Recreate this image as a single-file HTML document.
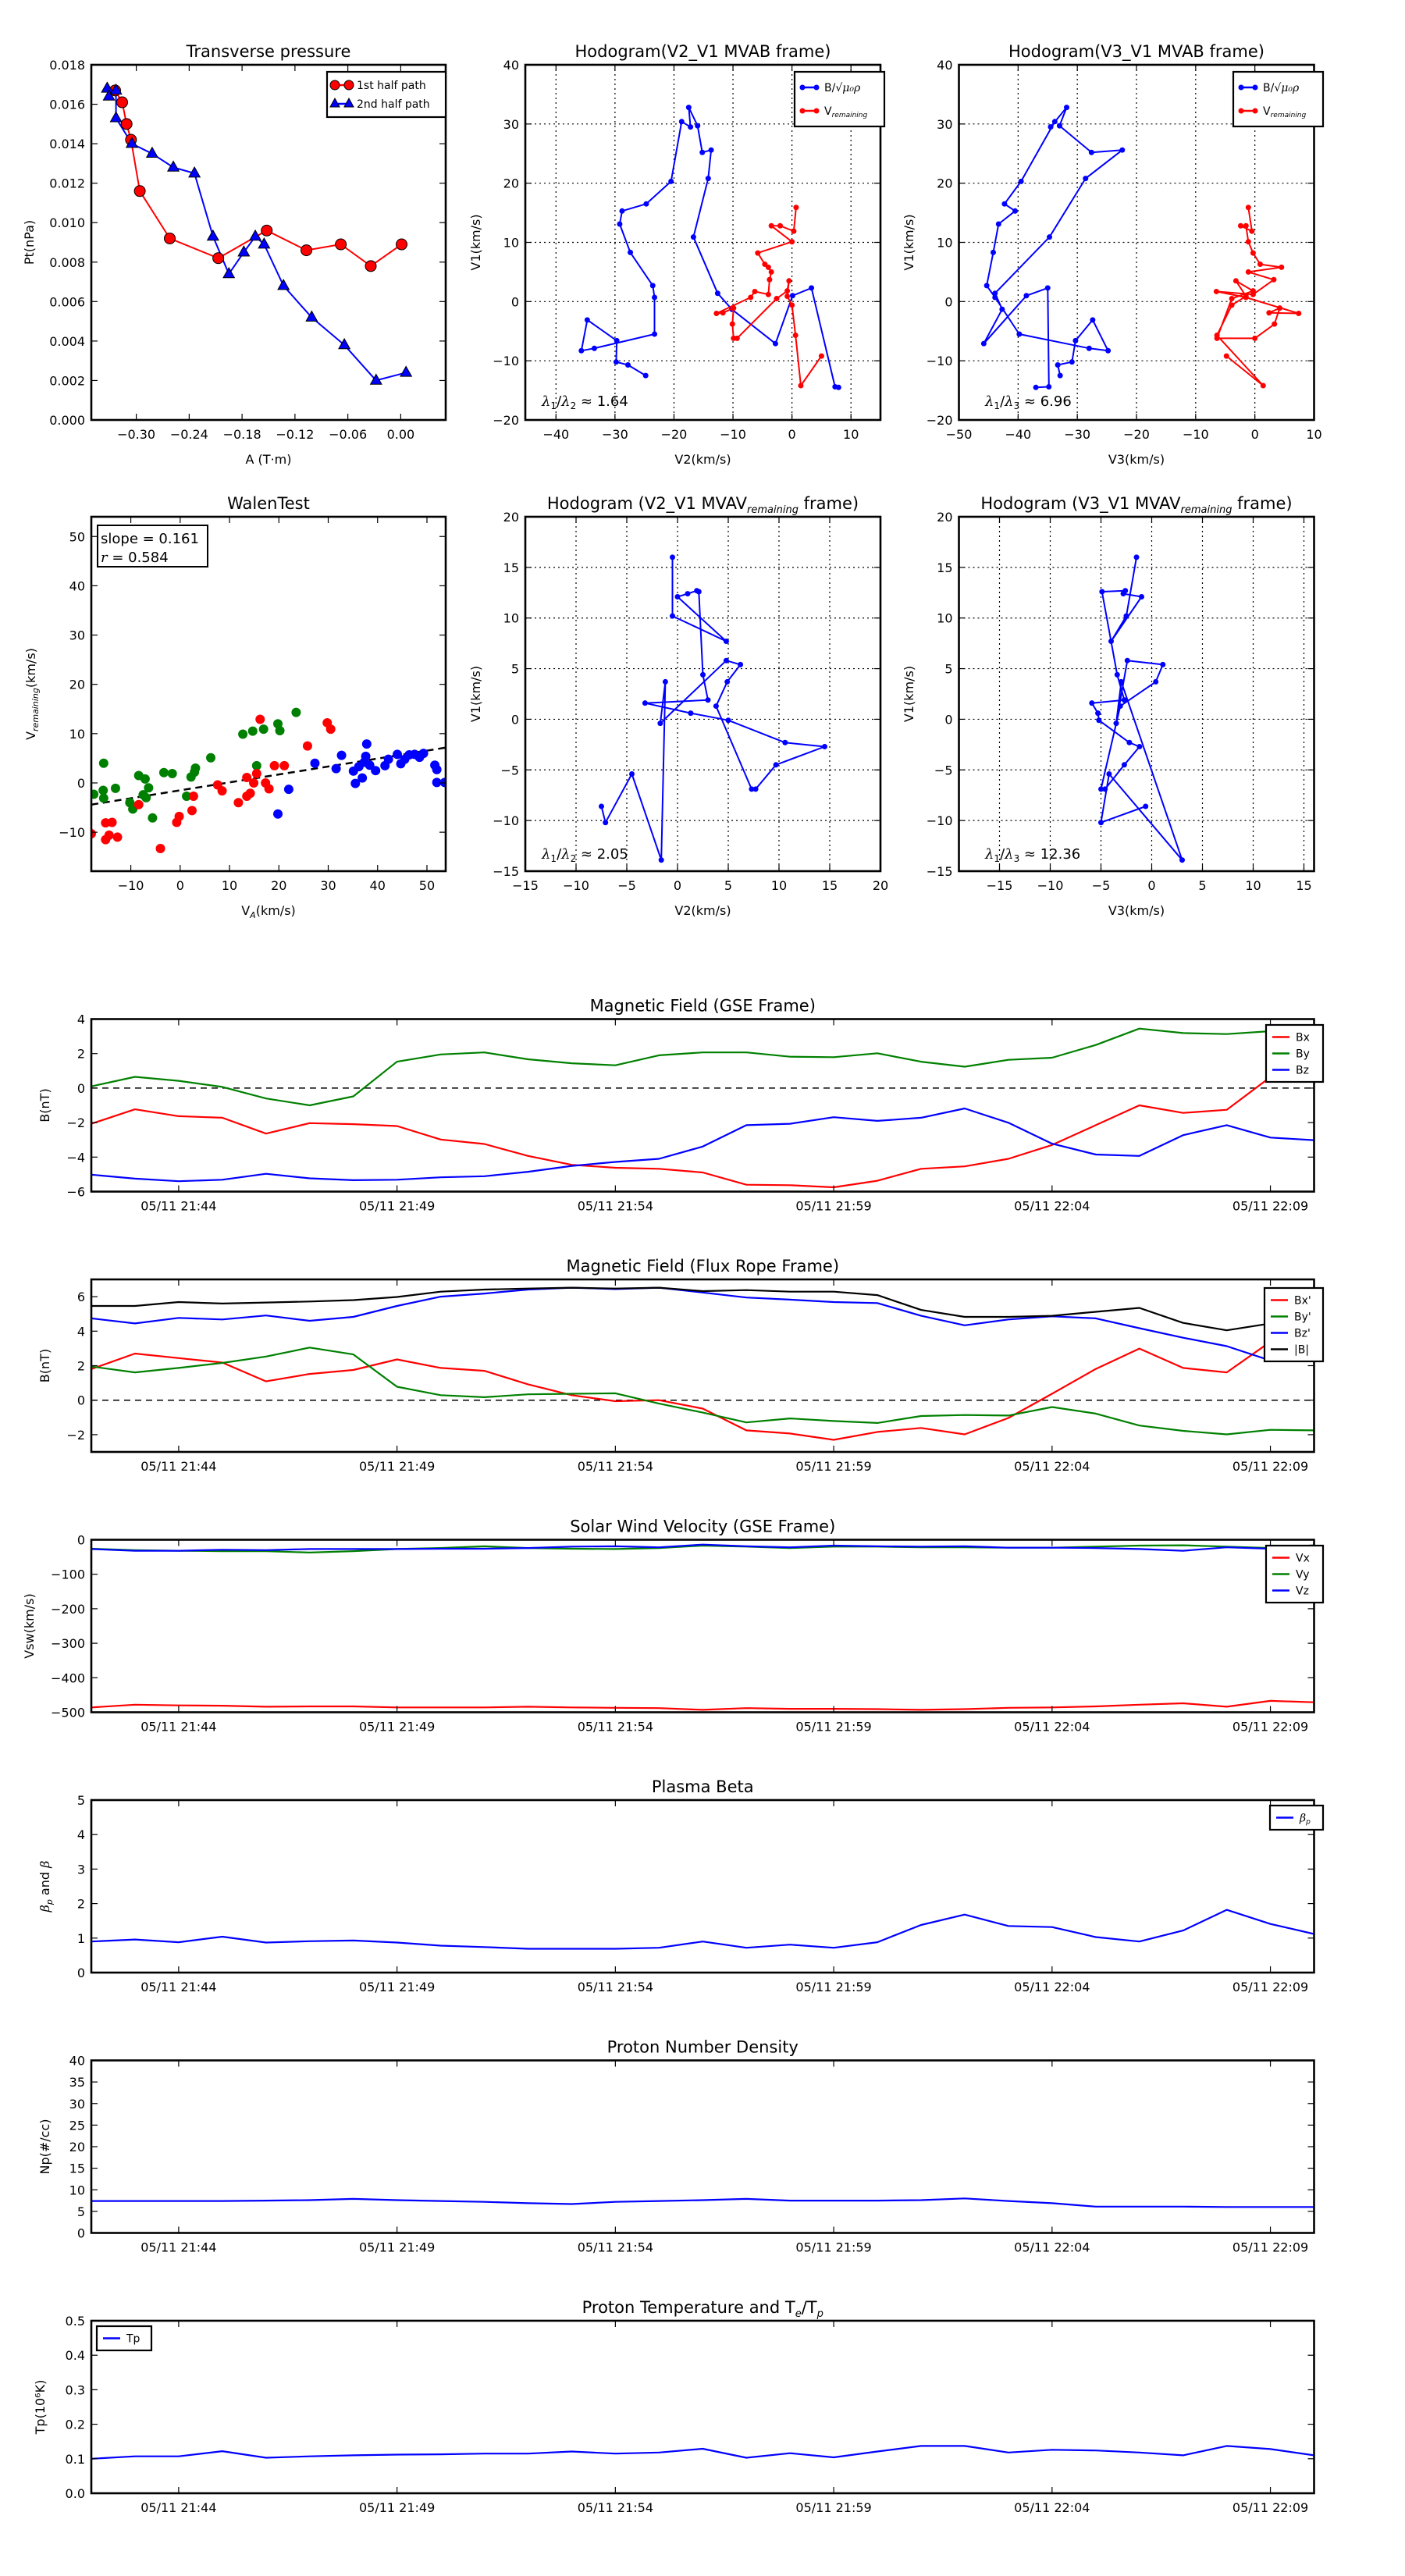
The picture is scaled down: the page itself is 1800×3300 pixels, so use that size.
<!DOCTYPE html>
<html><head><meta charset="utf-8"><title>Flux rope analysis</title>
<style>
html,body{margin:0;padding:0;background:#fff;}
svg{display:block;font-family:"DejaVu Sans","Liberation Sans",sans-serif;}
</style></head>
<body>
<svg id="fig" width="1800" height="3300" viewBox="0 0 1800 3300" xmlns="http://www.w3.org/2000/svg"></svg>
<script>
// ---------- data ----------
const ptA1 = [-0.324,-0.316,-0.311,-0.306,-0.296,-0.262,-0.207,-0.152,-0.107,-0.068,-0.034,0.001];
const ptP1 = [0.0167,0.0161,0.0150,0.0142,0.0116,0.0092,0.0082,0.0096,0.0086,0.0089,0.0078,0.0089];
const ptA2 = [-0.333,-0.331,-0.323,-0.323,-0.305,-0.282,-0.258,-0.234,-0.213,-0.195,-0.178,-0.165,-0.155,-0.133,-0.101,-0.064,-0.028,0.006];
const ptP2 = [0.0168,0.0164,0.0167,0.0153,0.0140,0.0135,0.0128,0.0125,0.0093,0.0074,0.0085,0.0093,0.0089,0.0068,0.0052,0.0038,0.0020,0.0024];

const hbV1 = [-14.5,-14.4,2.3,1.0,-7.1,-1.3,1.4,10.9,20.8,25.6,25.2,29.7,32.8,29.5,30.4,20.3,16.5,15.3,13.1,8.3,2.7,0.7,-5.5,-7.9,-8.3,-3.1,-6.6,-10.2,-10.7,-12.5];
const hbV2 = [7.9,7.3,3.3,0.1,-2.8,-10.2,-12.6,-16.7,-14.2,-13.7,-15.2,-16.0,-17.5,-17.2,-18.7,-20.5,-24.7,-28.8,-29.2,-27.4,-23.6,-23.3,-23.3,-33.5,-35.7,-34.7,-29.7,-29.8,-27.8,-24.8];
const hbV3 = [-37.0,-34.8,-35.0,-38.6,-45.8,-42.7,-43.9,-34.7,-28.6,-22.4,-27.6,-33.0,-31.8,-34.5,-33.8,-39.5,-42.3,-40.5,-43.3,-44.2,-45.3,-43.9,-39.8,-28.0,-24.8,-27.4,-30.3,-30.9,-33.3,-32.9];
const hrV1 = [15.9,11.9,12.8,12.8,10.1,8.2,6.3,5.8,5.0,3.7,1.2,1.7,0.7,-2.0,-1.9,-1.1,-3.8,-6.2,-6.2,0.5,1.8,3.5,0.9,-0.6,-5.7,-14.2,-9.2];
const hrV2 = [0.7,0.3,-2.0,-3.5,0.0,-5.8,-4.6,-4.0,-3.5,-3.8,-4.0,-6.3,-7.0,-12.8,-11.7,-9.9,-10.1,-9.9,-9.3,-2.6,-0.8,-0.5,-0.8,0.0,0.6,1.5,5.0];
const hrV3 = [-1.1,-0.5,-2.4,-1.5,-1.1,-0.3,0.9,4.5,-1.1,3.2,-0.3,-6.5,-1.5,7.4,2.4,4.2,3.3,0.0,-6.4,-3.9,-0.3,-3.2,-1.5,-3.9,-6.4,1.4,-4.8];

const wgX = [-17.5,-15.5,-15.6,-15.5,-13.1,-10.2,-9.6,-8.4,-7.1,-6.9,-6.4,-5.6,-3.3,-1.6,1.3,2.2,2.9,3.1,6.2,12.7,14.7,16.9,19.8,20.2,23.5,15.5,-7.5];
const wgY = [-2.3,4.0,-1.5,-3.1,-1.1,-4.0,-5.3,1.5,0.8,-3.0,-1.0,-7.1,2.1,1.9,-2.7,1.2,2.2,3.0,5.1,9.9,10.5,10.9,12.0,10.6,14.3,3.5,-2.4];
const wrX = [-18,-15.1,-15.1,-13.8,-14.4,-12.7,-8.4,-4.0,-0.7,-0.2,2.4,2.7,7.6,8.5,11.8,13.5,13.5,14.2,14.9,15.5,16.2,17.3,18.0,19.1,21.1,25.8,29.8,30.5];
const wrY = [-10.3,-8.1,-11.5,-8.0,-10.6,-11.0,-4.4,-13.3,-8.0,-6.8,-5.6,-2.7,-0.4,-1.6,-4.0,1.1,-2.7,-2.1,0,1.9,12.9,0,-1.2,3.5,3.5,7.5,12.2,10.9];
const wbX = [27.3,19.8,22.0,31.6,32.7,35.1,35.5,36.2,36.9,37.3,37.6,37.8,38.4,39.6,41.5,42.2,44.0,44.7,45.5,46.4,47.5,48.5,49.3,51.6,52.0,52.0,53.6];
const wbY = [4.0,-6.3,-1.3,2.9,5.6,2.4,-0.1,3.3,1.0,4.2,5.4,7.9,3.6,2.5,3.5,4.8,5.8,3.9,4.8,5.7,5.8,5.2,6.0,3.6,2.7,0.1,0.1];
const walenSlope = 0.161, walenIntercept = -1.5;

const hvV1 = [16.0,10.2,7.7,12.1,12.4,12.7,12.6,4.4,1.9,1.6,0.6,-0.1,-2.3,-2.7,-4.5,-6.9,-6.9,1.3,3.7,5.4,5.8,-0.4,3.7,-13.9,-5.4,-10.2,-8.6];
const hvV2 = [-0.5,-0.5,4.8,0.0,1.0,1.9,2.1,2.5,3.0,-3.2,1.3,5.0,10.6,14.5,9.7,7.7,7.3,3.8,4.9,6.2,4.8,-1.7,-1.2,-1.6,-4.5,-7.1,-7.5];
const hvV3 = [-1.5,-2.5,-4.0,-1.0,-2.8,-2.6,-4.9,-3.4,-2.7,-5.9,-5.3,-5.2,-2.2,-1.2,-2.7,-4.6,-5.0,-3.1,0.4,1.1,-2.4,-3.5,-3.0,3.0,-4.2,-5.0,-0.6];

const tMin = [0,1,2,3,4,5,6,7,8,9,10,11,12,13,14,15,16,17,18,19,20,21,22,23,24,25,26,27,28];
const timeTickMin = [2,7,12,17,22,27];
const timeTickLabels = ['05/11 21:44','05/11 21:49','05/11 21:54','05/11 21:59','05/11 22:04','05/11 22:09'];

const gseBx = [-2.07,-1.23,-1.63,-1.72,-2.64,-2.03,-2.09,-2.2,-2.98,-3.24,-3.93,-4.45,-4.62,-4.68,-4.89,-5.6,-5.63,-5.75,-5.37,-4.68,-4.54,-4.1,-3.3,-2.15,-1.0,-1.44,-1.26,0.64,0.5];
const gseBy = [0.1,0.65,0.42,0.07,-0.6,-1.0,-0.48,1.53,1.95,2.07,1.67,1.44,1.32,1.9,2.07,2.07,1.82,1.79,2.02,1.53,1.24,1.64,1.76,2.5,3.45,3.19,3.13,3.3,3.45];
const gseBz = [-5.02,-5.25,-5.4,-5.31,-4.97,-5.23,-5.34,-5.31,-5.17,-5.11,-4.85,-4.51,-4.28,-4.1,-3.39,-2.15,-2.07,-1.69,-1.9,-1.72,-1.18,-2.01,-3.22,-3.85,-3.93,-2.73,-2.15,-2.87,-3.02];

const frBx = [1.8,2.7,2.44,2.18,1.09,1.52,1.75,2.36,1.87,1.7,0.92,0.29,-0.06,0,-0.49,-1.75,-1.93,-2.3,-1.84,-1.61,-1.98,-1.03,0.37,1.81,2.99,1.87,1.61,3.39,3.45];
const frBy = [1.95,1.61,1.87,2.16,2.53,3.05,2.65,0.78,0.29,0.17,0.34,0.37,0.4,-0.2,-0.72,-1.29,-1.06,-1.21,-1.32,-0.92,-0.86,-0.89,-0.4,-0.78,-1.47,-1.78,-1.98,-1.72,-1.75];
const frBz = [4.74,4.45,4.77,4.68,4.91,4.6,4.83,5.46,6.0,6.18,6.41,6.52,6.44,6.52,6.24,5.95,5.83,5.69,5.63,4.89,4.34,4.68,4.86,4.74,4.17,3.62,3.13,2.3,2.5];
const frBt = [5.46,5.46,5.69,5.6,5.66,5.72,5.8,5.98,6.29,6.41,6.47,6.52,6.47,6.52,6.32,6.38,6.29,6.29,6.09,5.23,4.83,4.83,4.89,5.12,5.35,4.48,4.05,4.45,4.65];

const vx = [-486,-478,-480,-481,-484,-483,-483,-486,-486,-486,-484,-486,-487,-488,-493,-488,-490,-490,-491,-493,-491,-487,-486,-483,-478,-474,-484,-467,-471];
const vy = [-26,-30,-32,-33,-33,-37,-33,-27,-24,-19,-24,-26,-27,-24,-17,-20,-24,-20,-20,-22,-22,-23,-23,-20,-17,-16,-20,-24,-16];
const vz = [-27,-32,-32,-29,-30,-27,-27,-27,-26,-26,-24,-20,-19,-22,-14,-19,-22,-17,-19,-20,-19,-23,-23,-24,-27,-32,-22,-26,-27];

const betaP = [0.90,0.96,0.88,1.04,0.87,0.91,0.93,0.87,0.78,0.74,0.69,0.69,0.69,0.72,0.90,0.72,0.81,0.72,0.88,1.38,1.68,1.35,1.32,1.03,0.90,1.22,1.82,1.41,1.12];
const np = [7.4,7.4,7.4,7.4,7.5,7.6,7.9,7.6,7.4,7.2,6.9,6.7,7.2,7.4,7.6,7.9,7.5,7.5,7.5,7.6,8.0,7.4,6.9,6.1,6.1,6.1,6.0,6.0,6.0];
const tp = [0.100,0.107,0.107,0.122,0.103,0.107,0.110,0.112,0.113,0.115,0.115,0.121,0.115,0.118,0.129,0.103,0.116,0.104,0.121,0.137,0.137,0.118,0.126,0.124,0.118,0.110,0.137,0.128,0.110];

// ---------- helpers ----------
const NS = 'http://www.w3.org/2000/svg';
const fig = document.getElementById('fig');
function mk(tag, attrs, parent, text){
  const e = document.createElementNS(NS, tag);
  for (const k in attrs) e.setAttribute(k, attrs[k]);
  if (text !== undefined) e.textContent = text;
  (parent || fig).appendChild(e);
  return e;
}
function range(a,b,s){const r=[];for(let v=a;v<=b+1e-9;v+=s)r.push(+v.toFixed(6));return r;}

function panel(o){
  const g = mk('g', {});
  
  
  const sx = v => o.x + (v - o.xmin) / (o.xmax - o.xmin) * o.w;
  const sy = v => o.y + o.h - (v - o.ymin) / (o.ymax - o.ymin) * o.h;
  const clipId = 'c' + o.name;
  const cp = mk('clipPath', {id: clipId}, g);
  mk('rect', {x:o.x, y:o.y, width:o.w, height:o.h}, cp);
  // grid
  if (o.grid){
    o.xticks.forEach(t => { const X=sx(t); if (X>o.x+1 && X<o.x+o.w-1){ const l=mk('line',{x1:X,x2:X,y1:o.y,y2:o.y+o.h,stroke:'#000','stroke-width':1.2,'stroke-dasharray':'2,4'},g);
       }});
    o.yticks.forEach(t => { const Y=sy(t); if (Y>o.y+1 && Y<o.y+o.h-1){ const l=mk('line',{x1:o.x,x2:o.x+o.w,y1:Y,y2:Y,stroke:'#000','stroke-width':1.2,'stroke-dasharray':'2,4'},g);
       }});
  }
  const plot = mk('g', {'clip-path':'url(#'+clipId+')'}, g);
  
  
  // ticks
  const xt = mk('g', {}, g);
  
  
  o.xticks.forEach((t,i) => {
    const X = sx(t);
    mk('line',{x1:X,x2:X,y1:o.y+o.h,y2:o.y+o.h-8,stroke:'#000','stroke-width':1.2},xt);
    mk('line',{x1:X,x2:X,y1:o.y,y2:o.y+8,stroke:'#000','stroke-width':1.2},xt);
    const lab = o.xlabels ? o.xlabels[i] : fmt(t, o.xdec);
    const tx = mk('text',{x:X,y:o.y+o.h+24,'font-size':16,'text-anchor':'middle'},xt,lab);
     
  });
  const yt = mk('g', {}, g);
  
  
  o.yticks.forEach(t => {
    const Y = sy(t);
    mk('line',{x1:o.x,x2:o.x+8,y1:Y,y2:Y,stroke:'#000','stroke-width':1.2},yt);
    mk('line',{x1:o.x+o.w,x2:o.x+o.w-8,y1:Y,y2:Y,stroke:'#000','stroke-width':1.2},yt);
    const tx = mk('text',{x:o.x-8,y:Y+6,'font-size':16,'text-anchor':'end'},yt,fmt(t,o.ydec));
     
  });
  const fr = mk('rect',{x:o.x,y:o.y,width:o.w,height:o.h,fill:'none',stroke:'#000','stroke-width':2.6},g);
   
  // title
  const tt = mk('text',{x:o.x+o.w/2,y:o.y-10,'font-size':21,'text-anchor':'middle'},g);
   
  o.title.forEach(p => { const s = mk('tspan', p.sub ? {'font-size':13,'font-style':'italic',dy:5} : (p.after? {dy:-5}:{}), tt, p.t); });
  if (o.xlabel){
    const xl = mk('text',{x:o.x+o.w/2,y:o.y+o.h+56,'font-size':16,'text-anchor':'middle'},g);
     
    o.xlabel.forEach(p => mk('tspan', p.sub ? {'font-size':11,'font-style':'italic',dy:4} : (p.after?{dy:-4}:{}), xl, p.t));
  }
  if (o.ylabel){
    const yx = o.ylx;
    const yl = mk('text',{x:yx,y:o.y+o.h/2,'font-size':16,'text-anchor':'middle',transform:'rotate(-90 '+yx+' '+(o.y+o.h/2)+')'},g);
     
    o.ylabel.forEach(p => mk('tspan', p.sub ? {'font-size':11,'font-style':'italic',dy:4} : (p.after?{dy:-4}:(p.it?{'font-style':'italic','font-family':'DejaVu Serif'}:{})), yl, p.t));
  }
  return {g, plot, sx, sy};
}
function fmt(v, dec){ const s = v.toFixed(dec||0); return s.replace('-', '\u2212'); }
function polyline(ax, xs, ys, color, w, name){
  const pts = xs.map((x,i)=>ax.sx(x).toFixed(1)+','+ax.sy(ys[i]).toFixed(1)).join(' ');
  const p = mk('polyline',{points:pts,fill:'none',stroke:color,'stroke-width':w,'stroke-linejoin':'round'},ax.plot);
  
  
  return p;
}
function dots(ax, xs, ys, color, r, name, stroke){
  const gg = mk('g',{},ax.plot);
  
  
  xs.forEach((x,i)=>{
    const c = mk('circle',{cx:ax.sx(x),cy:ax.sy(ys[i]),r:r,fill:color,stroke:stroke||'none','stroke-width':1},gg);
    
    
  });
}
function tris(ax, xs, ys, color, s, name){
  const gg = mk('g',{},ax.plot);
  
  
  xs.forEach((x,i)=>{
    const X=ax.sx(x), Y=ax.sy(ys[i]);
    const t = mk('polygon',{points:`${X},${Y-s} ${X-s*0.9},${Y+s*0.6} ${X+s*0.9},${Y+s*0.6}`,fill:color,stroke:'#000','stroke-width':1},gg);
    
    
  });
}
function legend(x, y, w, entries, name, rowH){
  const gg = mk('g',{});
  
  
  rowH = rowH || 26;
  const h = entries.length*rowH + 10;
  mk('rect',{x:x,y:y,width:w,height:h,fill:'#fff',stroke:'#000','stroke-width':2.2},gg);
  entries.forEach((e,i)=>{
    const cy = y + 5 + rowH*(i+0.5);
    const it = mk('g',{},gg);
    
    
    mk('line',{x1:x+8,x2:x+30,y1:cy,y2:cy,stroke:e.c,'stroke-width':2.5},it);
    if (e.m==='o'){ mk('circle',{cx:x+10,cy:cy,r:6,fill:e.c,stroke:'#000'},it); mk('circle',{cx:x+28,cy:cy,r:6,fill:e.c,stroke:'#000'},it); }
    if (e.m==='d'){ mk('circle',{cx:x+10,cy:cy,r:3.5,fill:e.c},it); mk('circle',{cx:x+28,cy:cy,r:3.5,fill:e.c},it); }
    if (e.m==='t'){ [x+10,x+28].forEach(X=>mk('polygon',{points:`${X},${cy-7} ${X-6},${cy+4} ${X+6},${cy+4}`,fill:e.c,stroke:'#000'},it)); }
    const t = mk('text',{x:x+38,y:cy+5,'font-size':e.fs||14},it);
    e.parts.forEach(p=>mk('tspan', p.sub?{'font-size':9,'font-style':'italic',dy:3}:(p.it?{'font-style':'italic','font-family':'DejaVu Serif'}:{}), t, p.t));
  });
}
function note(x,y,parts,name){
  const t = mk('text',{x:x,y:y,'font-size':18});
  
  
  parts.forEach(p=>mk('tspan', p.sub?{'font-size':12,dy:4}:(p.up?{dy:-4}:(p.it?{'font-style':'italic','font-family':'DejaVu Serif'}:{})), t, p.t));
}

// ---------- row 1 ----------
const COLS = [[117,454],[673,455],[1228.5,455]];
const R1 = [83,455], R2 = [662,454];

const a1 = panel({name:'transverse-pressure-chart', x:COLS[0][0], y:R1[0], w:COLS[0][1], h:R1[1],
  xmin:-0.351, xmax:0.051, ymin:0, ymax:0.018, xticks:range(-0.30,0.0,0.06), xdec:2, yticks:range(0,0.018,0.002), ydec:3,
  title:[{t:'Transverse pressure'}], xlabel:[{t:'A (T\u00b7m)'}], ylabel:[{t:'Pt(nPa)'}], ylx:43});
polyline(a1, ptA1, ptP1, '#f00', 2, 'first-half-path-line');
polyline(a1, ptA2, ptP2, '#00f', 2, 'second-half-path-line');
dots(a1, ptA1, ptP1, '#f00', 7, 'first-half-path', '#000');
tris(a1, ptA2, ptP2, '#00f', 8, 'second-half-path');
legend(419, 92, 152, [{c:'#f00',m:'o',parts:[{t:'1st half path'}]},{c:'#00f',m:'t',parts:[{t:'2nd half path'}]}], 'pressure-legend', 24);

const a2 = panel({name:'hodogram-v2-v1-mvab', x:COLS[1][0], y:R1[0], w:COLS[1][1], h:R1[1],
  xmin:-45.2, xmax:15, ymin:-20, ymax:40, xticks:range(-40,10,10), yticks:range(-20,40,10), grid:true,
  title:[{t:'Hodogram(V2_V1 MVAB frame)'}], xlabel:[{t:'V2(km/s)'}], ylabel:[{t:'V1(km/s)'}], ylx:615});
polyline(a2, hbV2, hbV1, '#00f', 2, 'b-hodogram-line');
dots(a2, hbV2, hbV1, '#00f', 3.5, 'b-hodogram');
polyline(a2, hrV2, hrV1, '#f00', 2, 'v-remaining-line');
dots(a2, hrV2, hrV1, '#f00', 3.5, 'v-remaining');
legend(1018, 92, 115, [{c:'#00f',m:'d',parts:[{t:'B/\u221a'},{t:'\u03bc\u2080\u03c1',it:true}]},{c:'#f00',m:'d',parts:[{t:'V'},{t:'remaining',sub:true}]}], 'hodogram-legend', 30);
note(694, 520, [{t:'\u03bb',it:true},{t:'1',sub:true},{t:'/',up:true},{t:'\u03bb',it:true},{t:'2',sub:true},{t:' \u2248 1.64',up:true}], 'eigenvalue-ratio');

const a3 = panel({name:'hodogram-v3-v1-mvab', x:COLS[2][0], y:R1[0], w:COLS[2][1], h:R1[1],
  xmin:-50, xmax:10, ymin:-20, ymax:40, xticks:range(-50,10,10), yticks:range(-20,40,10), grid:true,
  title:[{t:'Hodogram(V3_V1 MVAB frame)'}], xlabel:[{t:'V3(km/s)'}], ylabel:[{t:'V1(km/s)'}], ylx:1170});
polyline(a3, hbV3, hbV1, '#00f', 2, 'b-hodogram-line');
dots(a3, hbV3, hbV1, '#00f', 3.5, 'b-hodogram');
polyline(a3, hrV3, hrV1, '#f00', 2, 'v-remaining-line');
dots(a3, hrV3, hrV1, '#f00', 3.5, 'v-remaining');
legend(1580, 92, 115, [{c:'#00f',m:'d',parts:[{t:'B/\u221a'},{t:'\u03bc\u2080\u03c1',it:true}]},{c:'#f00',m:'d',parts:[{t:'V'},{t:'remaining',sub:true}]}], 'hodogram-legend', 30);
note(1262, 520, [{t:'\u03bb',it:true},{t:'1',sub:true},{t:'/',up:true},{t:'\u03bb',it:true},{t:'3',sub:true},{t:' \u2248 6.96',up:true}], 'eigenvalue-ratio');

// ---------- row 2 ----------
const a4 = panel({name:'walen-test-chart', x:COLS[0][0], y:R2[0], w:COLS[0][1], h:R2[1],
  xmin:-18, xmax:53.8, ymin:-17.9, ymax:54, xticks:range(-10,50,10), yticks:range(-10,50,10),
  title:[{t:'WalenTest'}], xlabel:[{t:'V'},{t:'A',sub:true},{t:'(km/s)',after:true}], ylabel:[{t:'V'},{t:'remaining',sub:true},{t:'(km/s)',after:true}], ylx:45});
const fitX = [-18, 53.8];
const fl = mk('line',{x1:a4.sx(fitX[0]),y1:a4.sy(walenIntercept+walenSlope*fitX[0]),x2:a4.sx(fitX[1]),y2:a4.sy(walenIntercept+walenSlope*fitX[1]),stroke:'#000','stroke-width':2.5,'stroke-dasharray':'9,6'},a4.plot);
 
dots(a4, wgX, wgY, '#008000', 6, 'walen-green');
dots(a4, wrX, wrY, '#f00', 6, 'walen-red');
dots(a4, wbX, wbY, '#00f', 6, 'walen-blue');
(function(){
  const gg = mk('g',{});
   
  mk('rect',{x:125,y:673,width:141,height:53,fill:'#fff',stroke:'#000','stroke-width':2},gg);
  mk('text',{x:129,y:696,'font-size':18},gg,'slope = 0.161');
  const t = mk('text',{x:129,y:720,'font-size':18},gg);
  mk('tspan',{'font-style':'italic','font-family':'DejaVu Serif'},t,'r');
  mk('tspan',{},t,' = 0.584');
})();

const a5 = panel({name:'hodogram-v2-v1-mvav', x:COLS[1][0], y:R2[0], w:COLS[1][1], h:R2[1],
  xmin:-15, xmax:20, ymin:-15, ymax:20, xticks:range(-15,20,5), yticks:range(-15,20,5), grid:true,
  title:[{t:'Hodogram (V2_V1 MVAV'},{t:'remaining',sub:true},{t:' frame)',after:true}], xlabel:[{t:'V2(km/s)'}], ylabel:[{t:'V1(km/s)'}], ylx:615});
polyline(a5, hvV2, hvV1, '#00f', 2, 'v-hodogram-line');
dots(a5, hvV2, hvV1, '#00f', 3.5, 'v-hodogram');
note(694, 1100, [{t:'\u03bb',it:true},{t:'1',sub:true},{t:'/',up:true},{t:'\u03bb',it:true},{t:'2',sub:true},{t:' \u2248 2.05',up:true}], 'eigenvalue-ratio');

const a6 = panel({name:'hodogram-v3-v1-mvav', x:COLS[2][0], y:R2[0], w:COLS[2][1], h:R2[1],
  xmin:-19, xmax:16, ymin:-15, ymax:20, xticks:range(-15,15,5), yticks:range(-15,20,5), grid:true,
  title:[{t:'Hodogram (V3_V1 MVAV'},{t:'remaining',sub:true},{t:' frame)',after:true}], xlabel:[{t:'V3(km/s)'}], ylabel:[{t:'V1(km/s)'}], ylx:1170});
polyline(a6, hvV3, hvV1, '#00f', 2, 'v-hodogram-line');
dots(a6, hvV3, hvV1, '#00f', 3.5, 'v-hodogram');
note(1262, 1100, [{t:'\u03bb',it:true},{t:'1',sub:true},{t:'/',up:true},{t:'\u03bb',it:true},{t:'3',sub:true},{t:' \u2248 12.36',up:true}], 'eigenvalue-ratio');

// ---------- time series ----------
const TX = 117, TW = 1566.5, TH = 221;
const TOPS = [1305.5, 1639, 1972.5, 2306, 2639.5, 2973];
function tpanel(i, name, title, ymin, ymax, yticks, ydec, ylabel, ylx){
  return panel({name:name, x:TX, y:TOPS[i], w:TW, h:TH, xmin:0, xmax:28, ymin:ymin, ymax:ymax,
    xticks:timeTickMin, xlabels:timeTickLabels, yticks:yticks, ydec:ydec, title:title, ylabel:ylabel, ylx:ylx});
}
function zeroLine(ax, name){
  const l = mk('line',{x1:ax.sx(0),x2:ax.sx(28),y1:ax.sy(0),y2:ax.sy(0),stroke:'#000','stroke-width':1.5,'stroke-dasharray':'8,6'},ax.plot);
   
}
const t1 = tpanel(0,'magnetic-field-gse-chart',[{t:'Magnetic Field (GSE Frame)'}],-6,4,range(-6,4,2),0,[{t:'B(nT)'}],63);
zeroLine(t1,'zero-line');
polyline(t1, tMin, gseBx, '#f00', 2.2, 'series-bx');
polyline(t1, tMin, gseBy, '#008000', 2.2, 'series-by');
polyline(t1, tMin, gseBz, '#00f', 2.2, 'series-bz');
legend(1622, 1313, 73, [{c:'#f00',parts:[{t:'Bx'}]},{c:'#008000',parts:[{t:'By'}]},{c:'#00f',parts:[{t:'Bz'}]}], 'gse-legend', 21);

const t2 = tpanel(1,'magnetic-field-flux-rope-chart',[{t:'Magnetic Field (Flux Rope Frame)'}],-3,7,range(-2,6,2),0,[{t:'B(nT)'}],63);
zeroLine(t2,'zero-line');
polyline(t2, tMin, frBx, '#f00', 2.2, 'series-bx-prime');
polyline(t2, tMin, frBy, '#008000', 2.2, 'series-by-prime');
polyline(t2, tMin, frBz, '#00f', 2.2, 'series-bz-prime');
polyline(t2, tMin, frBt, '#000', 2.2, 'series-b-magnitude');
legend(1620, 1650, 75, [{c:'#f00',parts:[{t:"Bx'"}]},{c:'#008000',parts:[{t:"By'"}]},{c:'#00f',parts:[{t:"Bz'"}]},{c:'#000',parts:[{t:'|B|'}]}], 'flux-rope-legend', 21);

const t3 = tpanel(2,'solar-wind-velocity-chart',[{t:'Solar Wind Velocity (GSE Frame)'}],-500,0,range(-500,0,100),0,[{t:'Vsw(km/s)'}],43);
polyline(t3, tMin, vx, '#f00', 2.2, 'series-vx');
polyline(t3, tMin, vy, '#008000', 2.2, 'series-vy');
polyline(t3, tMin, vz, '#00f', 2.2, 'series-vz');
legend(1622, 1980, 73, [{c:'#f00',parts:[{t:'Vx'}]},{c:'#008000',parts:[{t:'Vy'}]},{c:'#00f',parts:[{t:'Vz'}]}], 'velocity-legend', 21);

const t4 = tpanel(3,'plasma-beta-chart',[{t:'Plasma Beta'}],0,5,range(0,5,1),0,[{t:'\u03b2',it:true},{t:'p',sub:true},{t:' and ',after:true},{t:'\u03b2',it:true}],63);
polyline(t4, tMin, betaP, '#00f', 2.2, 'series-beta-p');
legend(1627, 2313, 68, [{c:'#00f',parts:[{t:'\u03b2',it:true},{t:'p',sub:true}]}], 'beta-legend', 21);

const t5 = tpanel(4,'proton-density-chart',[{t:'Proton Number Density'}],0,40,range(0,40,5),0,[{t:'Np(#/cc)'}],63);
polyline(t5, tMin, np, '#00f', 2.2, 'series-np');

const t6 = tpanel(5,'proton-temperature-chart',[{t:'Proton Temperature and '},{t:'T',it:true},{t:'e',sub:true},{t:'/',after:true},{t:'T',it:true},{t:'p',sub:true}],0,0.5,range(0,0.5,0.1),1,[{t:'Tp(10\u2076K)'}],57);
polyline(t6, tMin, tp, '#00f', 2.2, 'series-tp');
legend(124, 2980, 70, [{c:'#00f',parts:[{t:'Tp'}]}], 'temperature-legend', 21);
</script>
</body></html>
